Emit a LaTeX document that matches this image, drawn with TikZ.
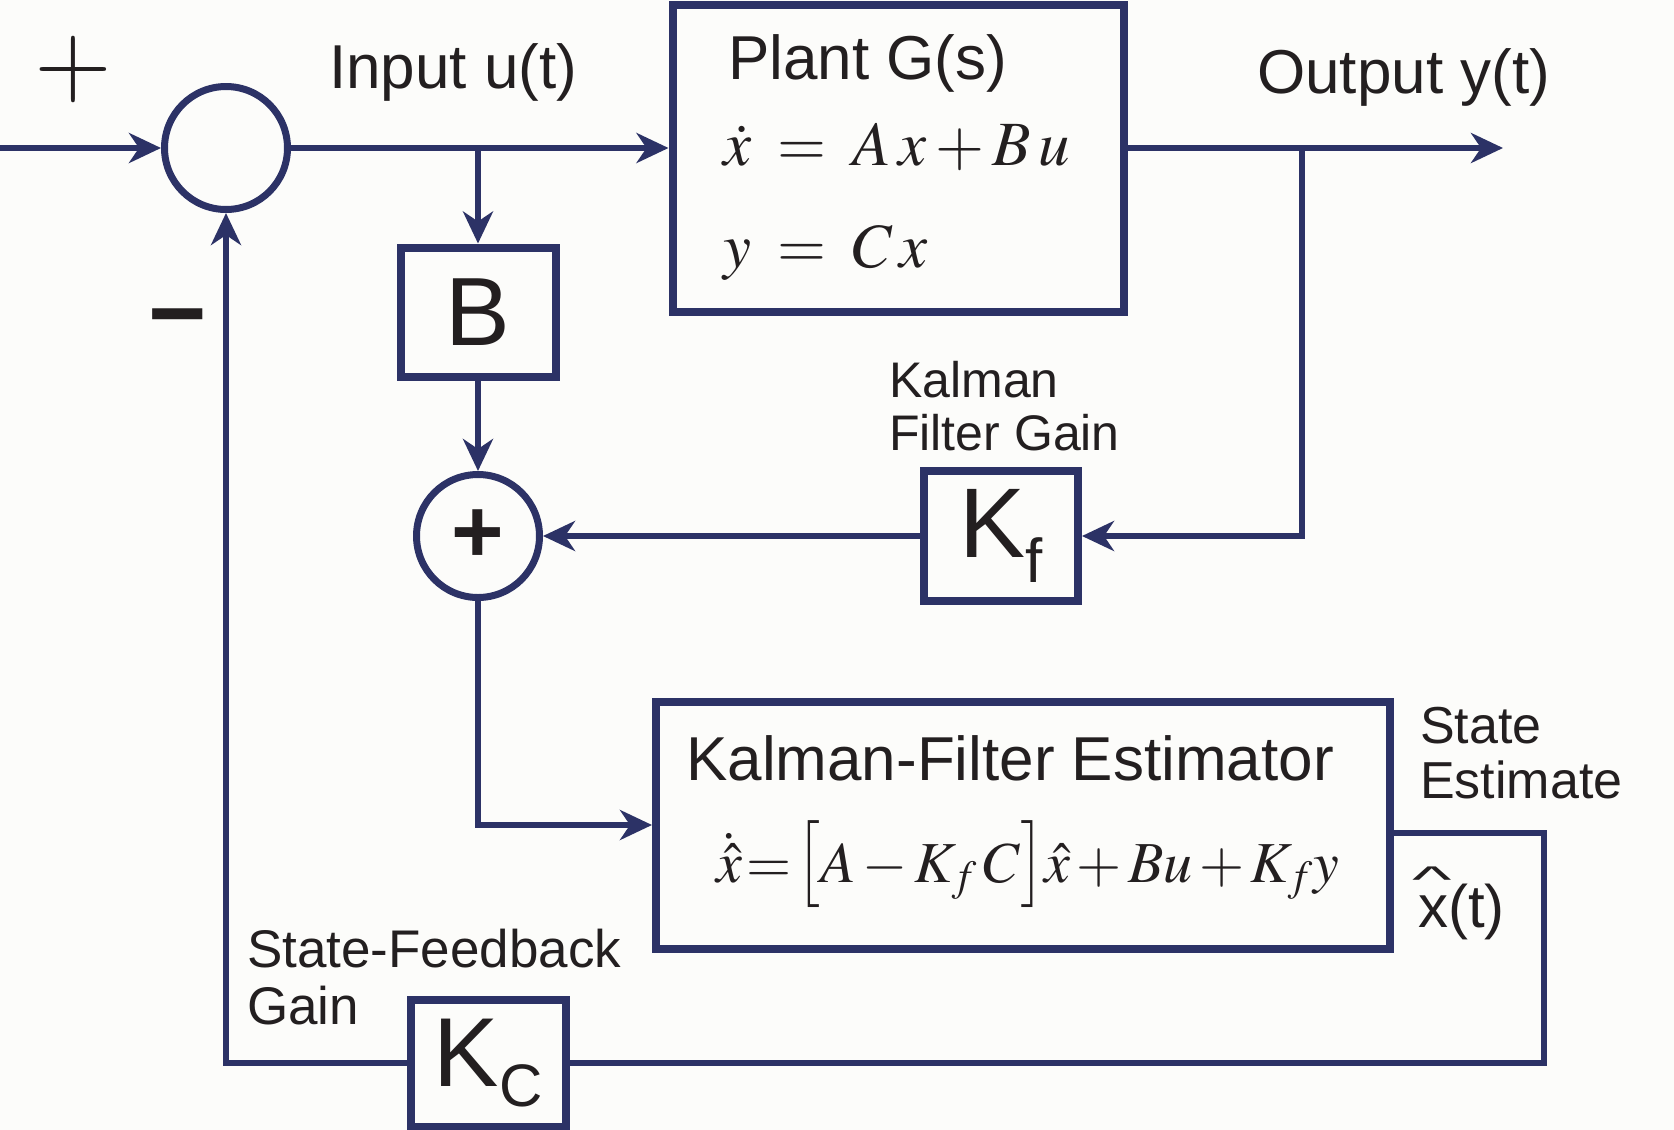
\documentclass[tikz,border=0pt]{standalone}
\usepackage{mathptmx}
\usepackage[no-math]{fontspec}
\usepackage{graphicx}
\setmainfont{Liberation Sans}
\usetikzlibrary{arrows.meta}
\definecolor{navy}{RGB}{44,50,102}
\definecolor{ink}{RGB}{35,31,32}
\definecolor{paper}{RGB}{252,252,250}
\newcommand{\hatx}{\makebox[0pt][l]{\hspace{-0.1em}\raisebox{0.58em}{\scalebox{1.4}[0.62]{\textasciicircum}}}x}
\newcommand{\lbrk}{\mathopen{\scalebox{1}[1.25]{$\bigl[$}}}
\newcommand{\rbrk}{\mathclose{\scalebox{1}[1.25]{$\bigr]$}}}
\begin{document}
\begin{tikzpicture}[x=1pt, y=-1pt,
    >={Stealth[length=32pt,width=30pt,inset=10pt]},
    blk/.style={draw=navy, line width=8pt, inner sep=0pt, text=ink},
    sumnode/.style={draw=navy, circle, line width=7pt, minimum size=123pt, inner sep=0pt, text=ink},
    sig/.style={draw=navy, line width=5.5pt},
    lbl/.style={text=ink, inner sep=0pt, anchor=base west, font=\fontsize{62}{74}\selectfont},
    note/.style={text=ink, inner sep=0pt, anchor=base west, align=left},
    eq/.style={text=ink, inner sep=0pt, anchor=base west, font=\fontsize{63}{63}\selectfont}]
  \path[use as bounding box, fill=paper] (0,0) rectangle (1674,1130);
  % blocks
    \node[sumnode] (sum1) at (226,148) {};
    \node[blk, minimum width=451pt, minimum height=307pt] (plant) at (898,158) {};
    \node[blk, minimum width=155pt, minimum height=129pt, font=\fontsize{97}{97}\selectfont] (B) at (478,312) {B};
    \node[sumnode, font=\fontsize{90}{90}\selectfont\bfseries] (sum2) at (478,536) {+};
    \node[blk, minimum width=154pt, minimum height=130pt, font=\fontsize{99}{99}\selectfont] (Kf) at (1001,536)
      {K\raisebox{-25pt}{\fontsize{62}{62}\selectfont f}};
    \node[blk, minimum width=734pt, minimum height=247pt] (est) at (1023,825) {};
    \node[blk, minimum width=155pt, minimum height=127pt, font=\fontsize{98}{98}\selectfont] (Kc) at (488,1063)
      {K\raisebox{-20pt}{\fontsize{60}{60}\selectfont C}};
  % signs at the first junction
    \node[text=ink, font=\fontsize{100}{100}\selectfont] (plus) at (73,70) {$+$};
    \node[text=ink, font=\fontsize{100}{100}\selectfont\bfseries] (minus) at (178,328) {−};
  % texts
    \node[lbl] (inlbl) at (329,88) {Input u(t)};
    \node[lbl] (plantlbl) at (728,79) {Plant G(s)};
    \node[lbl] (outlbl) at (1257,93) {Output y(t)};
    \node[lbl] (estlbl) at (686,780) {Kalman-Filter Estimator};
    \node[note, font=\fontsize{50}{53}\selectfont] (kflbl) at (889,450) {Kalman\\Filter Gain};
    \node[note, font=\fontsize{52}{55}\selectfont] (selbl) at (1420,798) {State\\Estimate};
    \node[note, font=\fontsize{53}{57}\selectfont] (sfblbl) at (247,1024) {State-Feedback\\Gain};
    \node[lbl, font=\fontsize{60}{60}\selectfont] (xhlbl) at (1418,927) {\hatx(t)};
  % equations
    \node[eq] (planteq1) at (723,165) {\thickmuskip=7.5mu $\dot{x} = A\,x + B\,u$};
    \node[eq] (planteq2) at (723,267) {\thickmuskip=7.5mu $y = C\,x$};
    \node[eq, font=\fontsize{58}{58}\selectfont] (esteq) at (716,882)
      {\thickmuskip=1.5mu \medmuskip=2mu $\dot{\hat{x}} = \lbrk A - K_f\,C\rbrk\hat{x} + Bu + K_f y$};
  % connectors
    \coordinate (uin) at (0,148);
    \coordinate (yout) at (1503,148);
    \coordinate (ytap) at (1302,148);
    \coordinate (xhat) at (1544,833);
    \draw[sig,->] (uin) -- (sum1.west);
    \draw[sig,->] (sum1.east) -- (sum1 -| plant.west);
    \draw[sig,->] (sum1 -| plant.east) -- (yout);
    \draw[sig,->] (B |- sum1) -- (B.north);
    \draw[sig,->] (B.south) -- (sum2.north);
    \draw[sig,->] (ytap) |- (Kf.east);
    \draw[sig,->] (Kf.west) -- (sum2.east);
    \draw[sig,->] (sum2.south) |- (est.west);
    \draw[sig] (est.east |- xhat) -- (xhat) |- (Kc.east);
    \draw[sig,->] (Kc.west) -| (sum1.south);
\end{tikzpicture}
\end{document}
